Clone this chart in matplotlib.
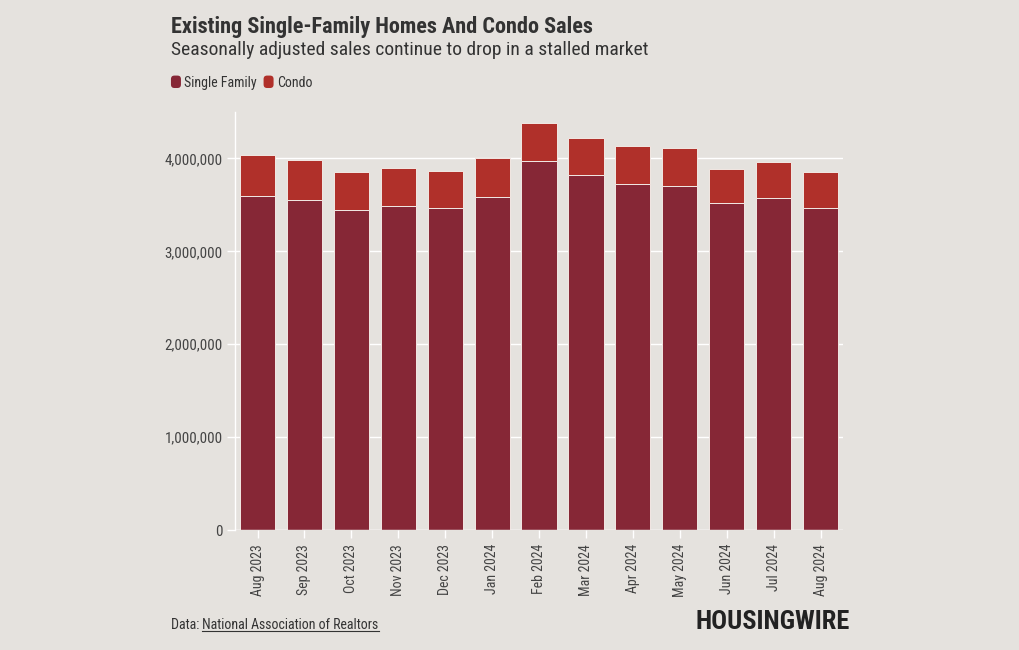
import matplotlib
matplotlib.use('Agg')
import matplotlib.pyplot as plt
from matplotlib.lines import Line2D
from matplotlib.patches import FancyBboxPatch
from matplotlib.legend_handler import HandlerPatch
from matplotlib.ticker import FuncFormatter

# data
months = ['Aug 2023', 'Sep 2023', 'Oct 2023', 'Nov 2023', 'Dec 2023', 'Jan 2024',
          'Feb 2024', 'Mar 2024', 'Apr 2024', 'May 2024', 'Jun 2024', 'Jul 2024', 'Aug 2024']
single_family = [3600000, 3550000, 3440000, 3490000, 3470000, 3590000,
                 3970000, 3820000, 3730000, 3700000, 3520000, 3570000, 3470000]
condo = [440000, 430000, 410000, 410000, 400000, 410000,
         410000, 400000, 400000, 410000, 370000, 390000, 380000]

bg = '#e5e2de'
sf_color = '#862736'
condo_color = '#b0302a'
text_color = '#333333'

plt.rcParams['font.family'] = ['Roboto Condensed', 'Roboto', 'DejaVu Sans']


class RoundedHandler(HandlerPatch):
    # rounded square swatches like the original legend
    def create_artists(self, legend, orig_handle, xdescent, ydescent, width, height, fontsize, trans):
        p = FancyBboxPatch((-xdescent, -ydescent), width, height,
                           boxstyle='round,pad=0,rounding_size=2.5',
                           facecolor=orig_handle.get_facecolor(), edgecolor='none', transform=trans)
        return [p]


fig = plt.figure(figsize=(10.2, 6.5), dpi=100, facecolor=bg)
ax = fig.add_axes([0.2304, 0.1846, 0.5961, 0.6431], facecolor=bg)

x = range(len(months))
b1 = ax.bar(x, single_family, width=0.75, color=sf_color, edgecolor='#f2e8e4', linewidth=0.7, zorder=3)
b2 = ax.bar(x, condo, bottom=single_family, width=0.75, color=condo_color,
            edgecolor='#f2e8e4', linewidth=0.7, zorder=3)

ax.set_xlim(-0.48, 12.48)
ax.set_ylim(0, 4.5e6)
ax.set_yticks([0, 1e6, 2e6, 3e6, 4e6])
ax.yaxis.set_major_formatter(FuncFormatter(lambda v, p: f'{int(v):,}'))
ax.set_xticks(list(x))
ax.set_xticklabels(months, rotation=90)

ax.grid(axis='y', color='white', linewidth=1, zorder=0)
for s in ['top', 'right', 'bottom']:
    ax.spines[s].set_visible(False)
ax.spines['left'].set_color('white')
ax.spines['left'].set_linewidth(1)
ax.axhline(0, color='white', linewidth=1, zorder=4)
ax.tick_params(axis='both', colors='white', length=6, width=1, labelcolor='#444444')
ax.tick_params(axis='y', pad=3, labelsize=10.8)
ax.tick_params(axis='x', pad=4, labelsize=10)

# titles
fig.text(0.1676, 0.958, 'Existing Single-Family Homes And Condo Sales', fontsize=16,
         fontweight='bold', color=text_color, va='center', ha='left')
fig.text(0.1676, 0.923, 'Seasonally adjusted sales continue to drop in a stalled market',
         fontsize=14, color=text_color, va='center', ha='left')

# legend
fig.legend([b1[0], b2[0]], ['Single Family', 'Condo'], loc='center left',
           bbox_to_anchor=(0.1676, 0.873), ncol=2, frameon=False, fontsize=10,
           handlelength=0.72, handleheight=1.0, handletextpad=0.22, columnspacing=0.5,
           borderpad=0, borderaxespad=0, labelcolor=text_color,
           handler_map={type(b1[0]): RoundedHandler()})

# footer
t1 = fig.text(0.1676, 0.038, 'Data: ', fontsize=10, color=text_color, va='center', ha='left')
fig.canvas.draw()
r = fig.canvas.get_renderer()
bb = t1.get_window_extent(r)
x0 = bb.x1 / fig.bbox.width
t2 = fig.text(x0, 0.038, 'National Association of Realtors', fontsize=10, color=text_color,
              va='center', ha='left')
bb2 = t2.get_window_extent(r)
yline = (bb2.y0 + 1) / fig.bbox.height
fig.add_artist(Line2D([bb2.x0 / fig.bbox.width, bb2.x1 / fig.bbox.width], [yline, yline],
                      color=text_color, linewidth=0.8, transform=fig.transFigure))

fig.text(0.8333, 0.043, 'HOUSINGWIRE', fontsize=19, fontweight='heavy', color='#222222',
         va='center', ha='right')

fig.savefig('out.png', dpi=100, facecolor=bg)
